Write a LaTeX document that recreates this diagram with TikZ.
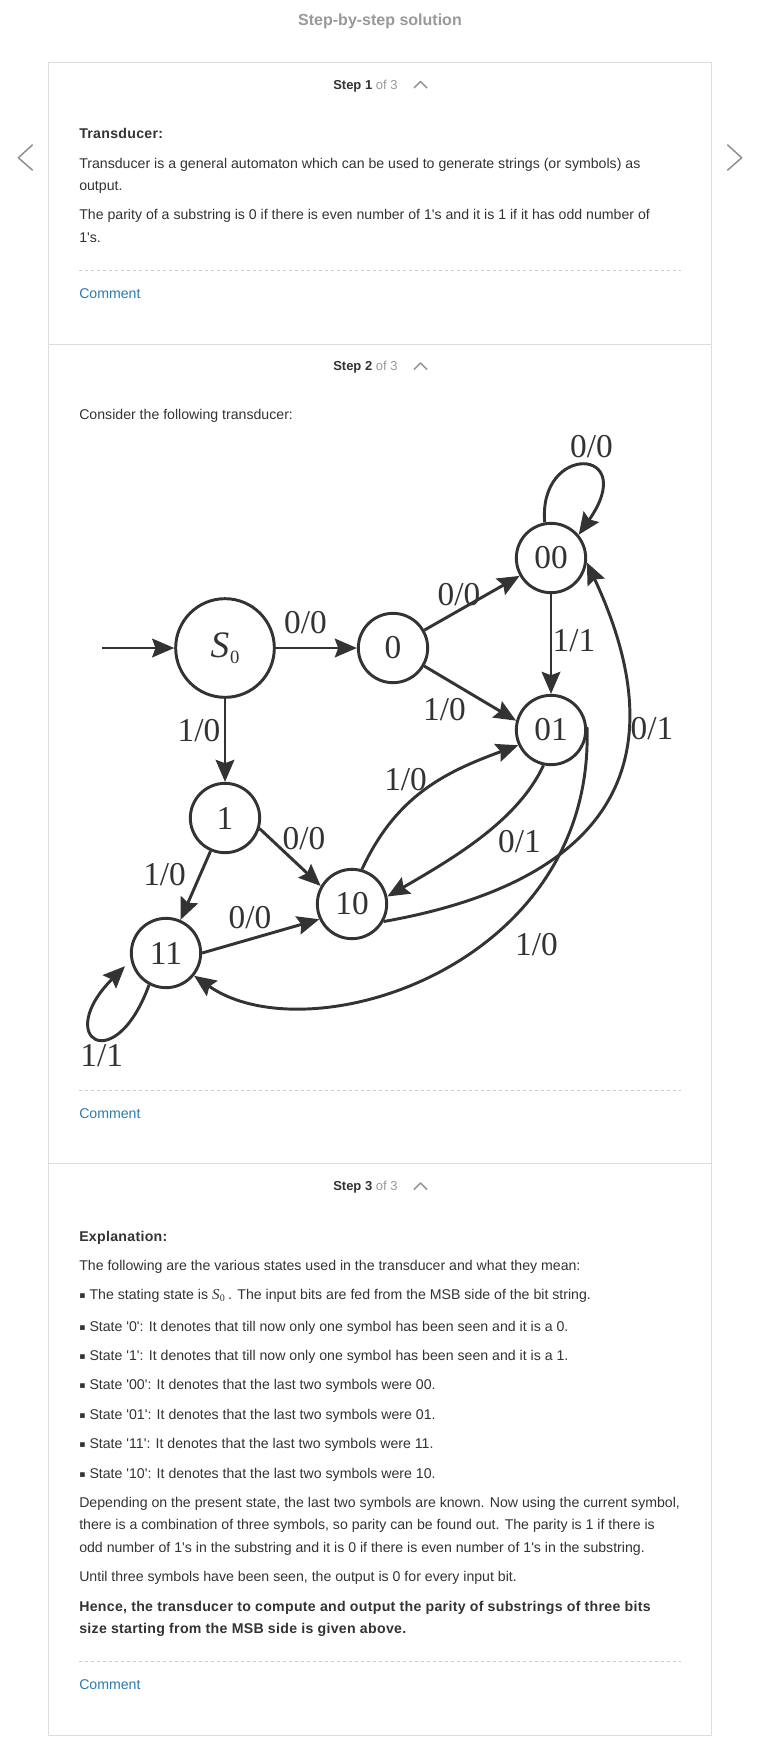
\documentclass[tikz,border=0pt]{standalone}
\usepackage{fontspec}
\setmainfont{Liberation Sans}[Ligatures=TeXOff]
\newfontfamily\serifdg{Liberation Serif}[Ligatures=TeXOff]
\newfontfamily\symfont{DejaVu Sans}
\usetikzlibrary{arrows.meta}

\definecolor{ink}{HTML}{333333}
\definecolor{dim}{HTML}{999999}
\definecolor{rulegray}{HTML}{DDDDDD}
\definecolor{dashgray}{HTML}{CCCCCC}
\definecolor{linkblue}{HTML}{2A7BAE}
\definecolor{chevgray}{HTML}{8E8E8E}
\definecolor{edgegray}{HTML}{333333}

% italic S with upright subscript 0
\newcommand{\Szero}[2]{{\serifdg\fontsize{#1}{#1}\selectfont\itshape S\kern0.02em\raisebox{-0.15em}{\upshape\fontsize{#2}{#2}\selectfont 0}}}
\newcommand{\sqbullet}{\raisebox{0.6pt}{\symfont\fontsize{7pt}{7pt}\selectfont ▪}}
\newcommand{\boldtxt}[1]{{\bfseries\addfontfeature{LetterSpace=2.1}#1}}

\tikzset{
  txt/.style={anchor=base west, inner sep=0pt, font=\fontsize{10.6pt}{12pt}\selectfont, text=ink},
  head/.style={anchor=base west, inner sep=0pt, font=\fontsize{9.75pt}{12pt}\selectfont, text=ink},
  link/.style={txt, text=linkblue},
  state/.style={circle, draw=edgegray, line width=2.2pt, minimum size=52pt, inner sep=0pt,
    font=\serifdg\fontsize{25pt}{25pt}\selectfont, text=edgegray},
  lab/.style={inner sep=0pt, font=\serifdg\fontsize{25pt}{25pt}\selectfont, text=edgegray},
  trans/.style={draw=edgegray, line width=2.2pt, -{Stealth[length=16.5pt, width=14pt, inset=2.5pt]}},
  boxline/.style={draw=rulegray, line width=0.75pt},
  dashline/.style={draw=dashgray, line width=0.75pt, dash pattern=on 2.6pt off 1.9pt},
  chevron/.style={draw=chevgray, line width=1.1pt, line cap=round, line join=round},
  caret/.style={draw=dim, line width=1.2pt, line join=round},
}

\begin{document}
\begin{tikzpicture}[x=0.75pt, y=0.75pt]
\fill[white] (0,0) rectangle (760,-1746);
\useasboundingbox (0,0) rectangle (760,-1746);

% page frame
\node[font=\bfseries\fontsize{12pt}{14pt}\selectfont, text=dim, inner sep=0pt] (title) at (380,-21.5) {Step-by-step solution};
\draw[boxline] (48,-62) rectangle (711,-1735);
\draw[boxline] (48,-344) -- (711,-344);
\draw[boxline] (48,-1163) -- (711,-1163);
\draw[chevron] (32.3,-145) -- (18.3,-157.8) -- (32.3,-170);
\draw[chevron] (727.7,-145) -- (741.7,-157.8) -- (727.7,-170);
\foreach \y in {270,1090,1661}
  \draw[dashline] (79,-\y) -- (681,-\y);

% step headers
\node[head] (h1) at (333,-89) {\textbf{Step 1} \textcolor{dim}{of 3}};
\node[head] (h2) at (333,-370.5) {\textbf{Step 2} \textcolor{dim}{of 3}};
\node[head] (h3) at (333,-1190.5) {\textbf{Step 3} \textcolor{dim}{of 3}};
\foreach \y in {89,370.5,1190.5}
  \draw[caret] (414,-\y+1) -- (420.5,-\y+7.5) -- (427,-\y+1);

% step 1
\node[txt] (t1) at (79,-138) {\boldtxt{Transducer:}};
\node[txt] (t2) at (79,-168) {Transducer is a general automaton which can be used to generate strings (or symbols) as};
\node[txt] (t3) at (79,-190) {output.};
\node[txt] (t4) at (79,-219) {The parity of a substring is 0 if there is even number of 1's and it is 1 if it has odd number of};
\node[txt] (t5) at (79,-242) {1's.};
\node[link] (c1) at (79,-298) {Comment};

% step 2
\node[txt] (t6) at (79,-419) {Consider the following transducer:};
\node[link] (c2) at (79,-1118) {Comment};

% transducer
\node[state, minimum size=74pt] (s0) at (225,-648) {\Szero{28pt}{14pt}};
\node[state] (q0) at (393,-648) {0};
\node[state] (q00) at (551,-558) {00};
\node[state] (q01) at (551,-730) {01};
\node[state] (q1) at (225,-818) {1};
\node[state] (q10) at (352,-904) {10};
\node[state] (q11) at (166,-953) {11};
\coordinate (init) at (102,-648);

\draw[trans] (init) -- (s0);
\draw[trans] (s0) -- (q0);
\draw[trans] (q0) -- (q00);
\draw[trans] (q0.-30) -- (q01.165);
\draw[trans] (q00) -- (q01);
\draw[trans] (s0) -- (q1);
\draw[trans] (q1) -- (q11);
\draw[trans] (q1.-17) -- (q10.150);
\draw[trans] (q11.0) -- (q10.205);
\draw[trans] (q00.100) .. controls +(95:80) and +(55:108) .. (q00.40);
\draw[trans] (q10.74) .. controls +(65:80) and +(200:80) .. (q01.205);
\draw[trans] (q01.258) .. controls +(-115:60) and +(30:80) .. (q10.12);
\draw[trans] (q10.-29) .. controls +(10:220) and +(-65:230) .. (q00.-7);
\draw[trans] (q01.5) .. controls +(-88:240) and +(-35:140) .. (q11.-39);
\draw[trans, shorten >=6pt] (q11.-118) .. controls +(-110:100) and +(-135:110) .. (q11.192);

\node[lab] (l1) at (305.5,-623) {0/0};
\node[lab] (l2) at (459,-595) {0/0};
\node[lab] (l3) at (444.5,-710) {1/0};
\node[lab] (l4) at (574,-641) {1/1};
\node[lab] (l5) at (652,-728.5) {0/1};
\node[lab] (l6) at (591.5,-446.5) {0/0};
\node[lab] (l7) at (199,-731) {1/0};
\node[lab] (l8) at (164.6,-874.7) {1/0};
\node[lab] (l9) at (304,-839) {0/0};
\node[lab] (l10) at (250,-918) {0/0};
\node[lab] (l11) at (405.6,-780) {1/0};
\node[lab] (l12) at (519.5,-841.7) {0/1};
\node[lab] (l13) at (536.5,-945) {1/0};
\node[lab] (l14) at (101.7,-1055.5) {1/1};

% step 3
\node[txt] (e1) at (79,-1241) {\boldtxt{Explanation:}};
\node[txt] (e2) at (79,-1270) {The following are the various states used in the transducer and what they mean:};
\node[txt] (e3) at (79,-1299) {\sqbullet\ The stating state is \Szero{11.3pt}{7.5pt}\kern2.5pt. The input bits are fed from the MSB side of the bit string.};
\node[txt] (e4) at (79,-1331) {\sqbullet\ State '0': It denotes that till now only one symbol has been seen and it is a 0.};
\node[txt] (e5) at (79,-1360) {\sqbullet\ State '1': It denotes that till now only one symbol has been seen and it is a 1.};
\node[txt] (e6) at (79,-1389) {\sqbullet\ State '00': It denotes that the last two symbols were 00.};
\node[txt] (e7) at (79,-1419) {\sqbullet\ State '01': It denotes that the last two symbols were 01.};
\node[txt] (e8) at (79,-1448) {\sqbullet\ State '11': It denotes that the last two symbols were 11.};
\node[txt] (e9) at (79,-1478) {\sqbullet\ State '10': It denotes that the last two symbols were 10.};
\node[txt] (e10) at (79,-1507) {Depending on the present state, the last two symbols are known. Now using the current symbol,};
\node[txt] (e11) at (79,-1529) {there is a combination of three symbols, so parity can be found out. The parity is 1 if there is};
\node[txt] (e12) at (79,-1552) {odd number of 1's in the substring and it is 0 if there is even number of 1's in the substring.};
\node[txt] (e13) at (79,-1581) {Until three symbols have been seen, the output is 0 for every input bit.};
\node[txt] (e14) at (79,-1611) {\boldtxt{Hence, the transducer to compute and output the parity of substrings of three bits}};
\node[txt] (e15) at (79,-1633) {\boldtxt{size starting from the MSB side is given above.}};
\node[link] (c3) at (79,-1689) {Comment};
\end{tikzpicture}
\end{document}
